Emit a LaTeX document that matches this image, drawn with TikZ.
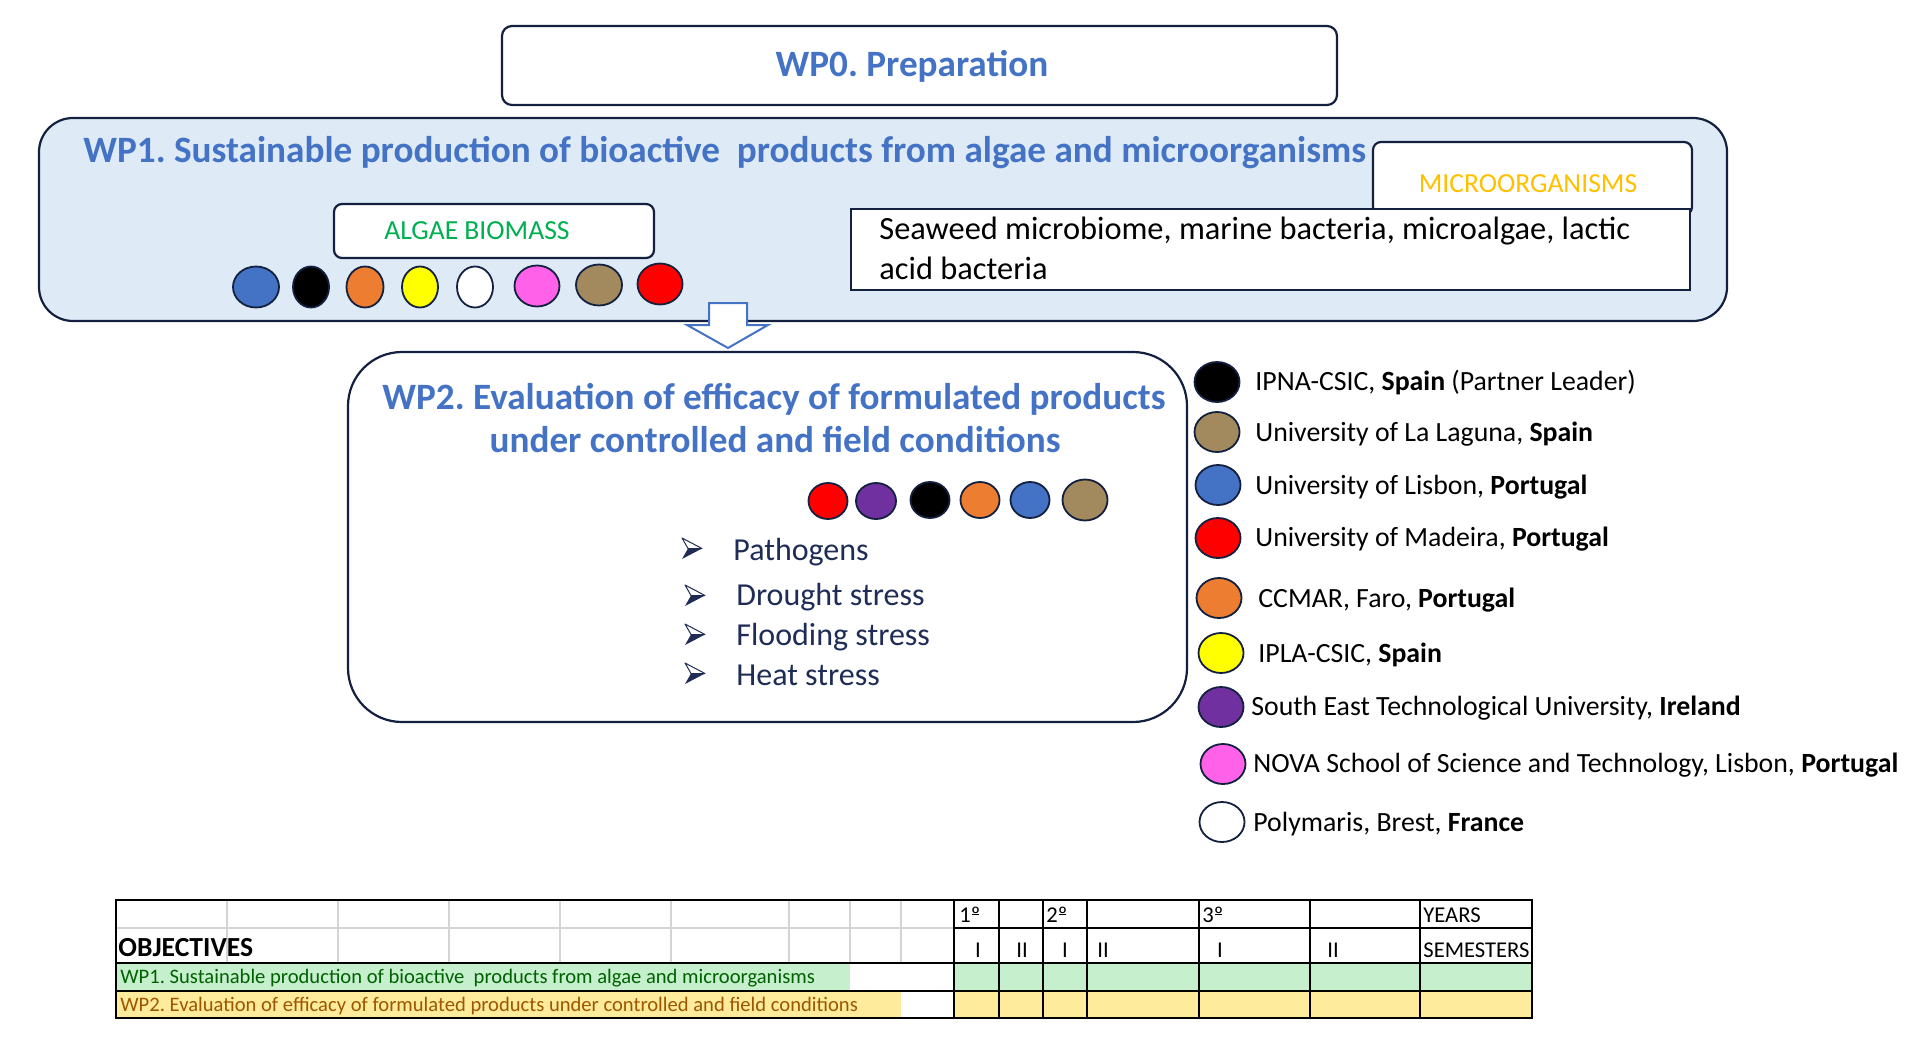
\documentclass[tikz,border=0pt]{standalone}
\usepackage{fontspec}
\setmainfont{Carlito}
\usetikzlibrary{shapes.geometric}
\frenchspacing
\newcommand\myordo{\ooalign{º\cr\hfil\rule[0.3em]{0.34em}{0.05em}\hfil\cr}}
\definecolor{wpblue}{HTML}{4472C4}
\definecolor{navy}{HTML}{13203F}
\definecolor{lightbluefill}{HTML}{DEEBF7}
\definecolor{microc}{HTML}{FFC000}
\definecolor{algaec}{HTML}{00B050}
\definecolor{dblue}{HTML}{4472C4}
\definecolor{dorange}{HTML}{ED7D31}
\definecolor{dyellow}{HTML}{FFFF00}
\definecolor{dpink}{HTML}{FF61E8}
\definecolor{dbrown}{HTML}{A38A5E}
\definecolor{dred}{HTML}{FF0000}
\definecolor{dpurple}{HTML}{7030A0}
\definecolor{bulc}{HTML}{1F2D56}
\definecolor{tgreen}{HTML}{C6EFCE}
\definecolor{tgreentext}{HTML}{006100}
\definecolor{tyellow}{HTML}{FFEB9C}
\definecolor{tyellowtext}{HTML}{9C5700}
\definecolor{tgrey}{HTML}{D4D4D4}
\tikzset{
  ttl/.style={font=\bfseries\fontsize{18.6}{22}\selectfont, text=wpblue, inner sep=0},
  boxline/.style={draw=navy, line width=1.1pt},
  dot/.style={ellipse, draw=navy, line width=0.9pt, inner sep=0, minimum height=20.5pt, minimum width=22pt},
  ldot/.style={ellipse, draw=navy, line width=0.9pt, inner sep=0, minimum height=20pt, minimum width=22.5pt},
  lg/.style={font=\fontsize{13.9}{16}\selectfont, anchor=base west, inner sep=0},
  bltxt/.style={font=\fontsize{16}{19}\selectfont, text=bulc, anchor=base west, inner sep=0},
  tb/.style={font=\fontsize{11.3}{13}\selectfont, inner sep=0},
  tbw/.style={font=\fontsize{10.3}{12}\selectfont, inner sep=0, anchor=base west},
  tline/.style={draw=black, line width=0.7pt},
  bul/.pic={
    \fill[bulc] (6,0) -- (20,0) -- (0,10.5) -- cycle;
    \draw[bulc, line width=0.5pt, fill=white, line join=round] (0,-10.5) -- (20,0) -- (6,0) -- cycle;
  }
}
\begin{document}
\begin{tikzpicture}[x=0.5pt,y=-0.5pt]
\useasboundingbox[fill=white] (0,0) rectangle (1920,1064);

% WP0
\node[boxline, rounded corners=5pt, minimum width=417.5pt, minimum height=39.5pt, fill=white] (wp0) at (919.5,65.5) {};
\node[ttl] (wp0t) at (912,66) {WP0. Preparation};

% WP1
\node[boxline, rounded corners=17pt, minimum width=844pt, minimum height=101.5pt, fill=lightbluefill] (wp1) at (883,219.5) {};
\node[ttl, anchor=base west] (wp1t) at (83,162.5) {WP1. Sustainable production of bioactive~ products from algae and microorganisms};

\node[boxline, rounded corners=4pt, minimum width=159.5pt, minimum height=36.5pt, fill=white] (micro) at (1532.5,178.5) {};
\node[font=\fontsize{13.8}{16}\selectfont, text=microc, anchor=base, inner sep=0] (microt) at (1528,192) {MICROORGANISMS};

\node[boxline, minimum width=419.5pt, minimum height=40.5pt, fill=white] (sea) at (1270.5,249.5) {};
\node[font=\fontsize{16.2}{20}\selectfont, anchor=base west, inner sep=0] (seat1) at (879,240) {Seaweed microbiome, marine bacteria, microalgae, lactic};
\node[font=\fontsize{16.2}{20}\selectfont, anchor=base west, inner sep=0] (seat2) at (879,279.5) {acid bacteria};

\node[boxline, rounded corners=4pt, minimum width=160pt, minimum height=27pt, fill=white] (algae) at (494,231) {};
\node[font=\fontsize{13.8}{16}\selectfont, text=algaec, anchor=base, inner sep=0] (algaet) at (477,240) {ALGAE BIOMASS};

\node[dot, fill=dblue, minimum width=23pt] (a1) at (256,287) {};
\node[dot, fill=black, minimum width=18pt] (a2) at (311,287) {};
\node[dot, fill=dorange, minimum width=18.5pt] (a3) at (365,287) {};
\node[dot, fill=dyellow, minimum width=18pt] (a4) at (420,287) {};
\node[dot, fill=white, minimum width=18pt] (a5) at (475,287) {};
\node[dot, fill=dpink, minimum width=22.5pt] (a6) at (537,286) {};
\node[dot, fill=dbrown, minimum width=23pt] (a7) at (599,285) {};
\node[dot, fill=dred, minimum width=22.5pt] (a8) at (660,284) {};

% WP2
\node[boxline, rounded corners=27pt, minimum width=419.5pt, minimum height=185pt, fill=white] (wp2) at (767.5,537) {};

% block arrow
\draw[wpblue, line width=1pt, fill=white, line join=miter] (709,303) -- (747,303) -- (747,325) -- (768,325) -- (728,348) -- (687,325) -- (709,325) -- cycle;

\node[ttl, anchor=base] (wp2t1) at (774,409) {WP2. Evaluation of efficacy of formulated products};
\node[ttl, anchor=base] (wp2t2) at (775,452) {under controlled and field conditions};

\node[dot, fill=dred, minimum width=19.5pt, minimum height=18pt] (b1) at (828,501) {};
\node[dot, fill=dpurple, minimum width=20pt, minimum height=18pt] (b2) at (876,501) {};
\node[dot, fill=black, minimum width=19.5pt, minimum height=18pt] (b3) at (930,500) {};
\node[dot, fill=dorange, minimum width=19.5pt, minimum height=18pt] (b4) at (980,500) {};
\node[dot, fill=dblue, minimum width=19.5pt, minimum height=18pt] (b5) at (1030,500) {};
\node[dot, fill=dbrown, minimum width=22.5pt, minimum height=20.5pt] (b6) at (1085,500) {};

\pic at (682,548.5) {bul};
\pic at (685,595.5) {bul};
\pic at (685,634.5) {bul};
\pic at (685,673.5) {bul};
\node[bltxt] (p1) at (733,560) {Pathogens};
\node[bltxt] (p2) at (736,605) {Drought stress};
\node[bltxt] (p3) at (736,645) {Flooding stress};
\node[bltxt] (p4) at (736,685) {Heat stress};

% legend
\node[ldot, fill=black] (l1) at (1217,382) {};
\node[ldot, fill=dbrown] (l2) at (1217,432) {};
\node[ldot, fill=dblue] (l3) at (1218,485) {};
\node[ldot, fill=dred] (l4) at (1218,538) {};
\node[ldot, fill=dorange] (l5) at (1219,598) {};
\node[ldot, fill=dyellow] (l6) at (1221,653) {};
\node[ldot, fill=dpurple] (l7) at (1221,707) {};
\node[ldot, fill=dpink] (l8) at (1223,764) {};
\node[ldot, fill=white] (l9) at (1222,822) {};
\node[lg] (lt1) at (1255,390) {IPNA-CSIC, \textbf{Spain} (Partner Leader)};
\node[lg] (lt2) at (1255,441) {University of La Laguna, \textbf{Spain}};
\node[lg] (lt3) at (1255,494) {University of Lisbon, \textbf{Portugal}};
\node[lg] (lt4) at (1255,546) {University of Madeira, \textbf{Portugal}};
\node[lg] (lt5) at (1258,607) {CCMAR, Faro, \textbf{Portugal}};
\node[lg] (lt6) at (1258,662) {IPLA-CSIC, \textbf{Spain}};
\node[lg] (lt7) at (1251,715) {South East Technological University, \textbf{Ireland}};
\node[lg] (lt8) at (1253,772) {NOVA School of Science and Technology, Lisbon, \textbf{Portugal}};
\node[lg] (lt9) at (1253,831) {Polymaris, Brest, \textbf{France}};

% table
\fill[tgreen] (116,963) rectangle (850,991);
\fill[tgreen] (954,963) rectangle (1532,991);
\fill[tyellow] (116,991) rectangle (901,1018);
\fill[tyellow] (954,991) rectangle (1532,1018);
\foreach \x in {227,338,449,560,671,789,850,901} \draw[tgrey, line width=0.7pt] (\x,900) -- (\x,963);
\draw[tgrey, line width=0.7pt] (116,928) -- (954,928);
\draw[tline] (116,963) -- (1532,963);
\draw[tline] (116,991) -- (1532,991);
\draw[tline] (954,928) -- (1532,928);
\foreach \x in {954,999,1043,1087,1199,1310,1420} \draw[tline] (\x,900) -- (\x,1018);
\draw[draw=black, line width=1.1pt] (116,900) rectangle (1532,1018);

\node[tb, anchor=base west] (y1) at (959,922) {1\myordo};
\node[tb, anchor=base west] (y2) at (1046,922) {2\myordo};
\node[tb, anchor=base west] (y3) at (1202,922) {3\myordo};
\node[tb, anchor=base west] (yrs) at (1423,922) {YEARS};
\node[tb, anchor=base] (s1) at (978,957) {I};
\node[tb, anchor=base] (s2) at (1022,957) {II};
\node[tb, anchor=base] (s3) at (1065,957) {I};
\node[tb, anchor=base] (s4) at (1103,957) {II};
\node[tb, anchor=base] (s5) at (1220,957) {I};
\node[tb, anchor=base] (s6) at (1333,957) {II};
\node[tb, anchor=base west] (sem) at (1423,957) {SEMESTERS};
\node[font=\bfseries\fontsize{13.8}{16}\selectfont, inner sep=0, anchor=base west] (obj) at (118,956) {OBJECTIVES};
\node[tbw, text=tgreentext] (r1) at (120,983) {WP1. Sustainable production of bioactive~ products from algae and microorganisms};
\node[tbw, text=tyellowtext] (r2) at (120,1011.5) {WP2. Evaluation of efficacy of formulated products under controlled and field conditions};
\end{tikzpicture}
\end{document}
